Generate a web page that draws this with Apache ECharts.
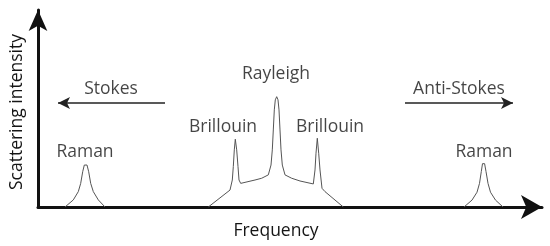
<!DOCTYPE html>
<html>
<head>
<meta charset="utf-8">
<script src="https://cdn.jsdelivr.net/npm/echarts@6/dist/echarts.min.js"></script>
<style>html,body{margin:0;padding:0;background:#fff}#c{width:550px;height:246px}</style>
</head>
<body>
<div id="c"></div>
<script>
// Frequency shift (arbitrary units, Rayleigh line at 0) vs scattering intensity (arbitrary units)
var ramanStokes = [[-211,0],[-202.7,3.6],[-197.7,7.8],[-195.3,12],[-193.3,17.9],[-191.7,21.3],[-190.3,22.2],[-189,21.3],[-187.3,17.9],[-185.3,12],[-182.7,7.8],[-177.7,3.6],[-171,0]];
var centralBand = [[-67.7,0],[-46,8.6],[-43.7,13.7],[-42.7,20.5],[-41.7,29],[-40.7,34.4],[-39.3,29],[-38,20.5],[-37,13.7],[-35.3,12],[-21,13.7],[-14.3,14.6],[-7.7,16.3],[-5,21.3],[-3.7,29],[-2.7,39.1],[-1.7,49.3],[-0.7,54.4],[0.7,56],[2,54.4],[3,49.3],[4,39.1],[5,29],[6.3,21.3],[9,16.3],[15.7,14.6],[24,13.2],[37.3,11.7],[39,18.8],[40,27.3],[41.3,34.9],[42.7,27.3],[44,18.8],[46,9.5],[49,7.8],[67.3,0]];
var ramanAntiStokes = [[188,0],[196,3.5],[201,7.5],[203.5,12],[205.3,18],[206.5,22],[207.5,23],[208.6,22],[210,18],[212,12],[214.5,7.5],[219.5,3.5],[227,0]];
var annotationNames = ['Stokes','Anti-Stokes','Rayleigh','Brillouin','Brillouin','Raman','Raman'];
var annotationX = [-165,183,0,-53,54,-191,208];
var annotationY = [60,60,67.6,40.7,40.7,27.9,27.9];
var stokesArrow = [-111,-218,52.8];
var antiStokesArrow = [129,237,52.8];
var xName = 'Frequency';
var yName = 'Scattering intensity';

var FONT = '"Open Sans", sans-serif';
var FS = 17.5;
var chart = echarts.init(document.getElementById('c'), null, {renderer:'canvas'});
var lineStyle = {color:'#555', width:1};
function spec(name, data){
  return {name:name, type:'line', data:data, showSymbol:false, symbol:'none', lineStyle:lineStyle, silent:true, z:3, animation:false};
}
var labels = annotationNames.map(function(n,i){return {name:n, value:[annotationX[i], annotationY[i]]};});
chart.setOption({
  animation:false,
  grid:{left:38, right:8, top:10, bottom:39},
  xAxis:{type:'value', min:-238, max:266, name:xName, nameLocation:'middle', nameGap:15,
    nameTextStyle:{fontFamily:FONT, fontSize:FS, color:'#151515', padding:[0,28,0,0]},
    axisLine:{show:true, onZero:false, symbol:['none','arrow'], symbolSize:[18,21], lineStyle:{color:'#111', width:3}},
    axisTick:{show:false}, axisLabel:{show:false}, splitLine:{show:false}},
  yAxis:{type:'value', min:0, max:100, name:yName, nameLocation:'middle', nameGap:12,
    nameTextStyle:{fontFamily:FONT, fontSize:FS, color:'#151515', padding:[0,7,0,0]},
    axisLine:{show:true, onZero:false, symbol:['none','arrow'], symbolSize:[14,21], lineStyle:{color:'#111', width:3}},
    axisTick:{show:false}, axisLabel:{show:false}, splitLine:{show:false}},
  series:[
    spec('Raman Stokes', ramanStokes),
    spec('Rayleigh / Brillouin', centralBand),
    spec('Raman anti-Stokes', ramanAntiStokes),
    {type:'scatter', data:labels, symbolSize:0, silent:true, z:4,
      label:{show:true, position:'inside', formatter:'{b}', fontFamily:FONT, fontSize:FS, color:'#151515'},
      markLine:{silent:true, symbol:['none','arrow'], symbolSize:[9,12], label:{show:false},
        lineStyle:{color:'#222', width:1.5, type:'solid'},
        data:[
          [{coord:[stokesArrow[0], stokesArrow[2]]},{coord:[stokesArrow[1], stokesArrow[2]]}],
          [{coord:[antiStokesArrow[0], antiStokesArrow[2]]},{coord:[antiStokesArrow[1], antiStokesArrow[2]]}]
        ]}}
  ]
});
</script>
</body>
</html>
